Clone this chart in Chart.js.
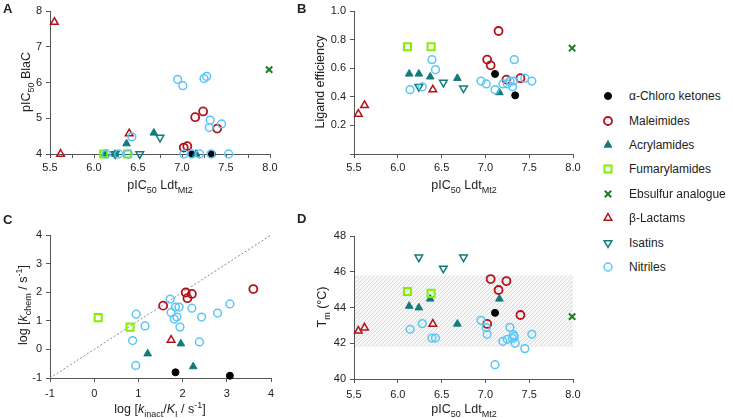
<!DOCTYPE html>
<html>
<head>
<meta charset="utf-8">
<script src="https://cdn.jsdelivr.net/npm/chart.js@4.4.1/dist/chart.umd.min.js"></script>
<style>
  body { margin: 0; background: #fff; font-family: 'Liberation Sans', Arial, sans-serif; color: #222; }
  #fig { position: relative; width: 732px; height: 418px; overflow: hidden; }
  canvas { position: absolute; }
  .lbl { position: absolute; font-weight: bold; font-size: 13px; }
  .t { position: absolute; font-size: 12.5px; white-space: nowrap; transform: translate(-50%, -50%); }
  .t.v { transform: translate(-50%, -50%) rotate(-90deg); }
  sub, sup { font-size: 72%; line-height: 0; }
  .leg { position: absolute; left: 600px; height: 16px; font-size: 12px; white-space: nowrap; }
  .leg svg { position: absolute; left: 0; top: 0; }
  .leg span { position: absolute; left: 29px; top: 0; line-height: 16px; }
</style>
</head>
<body>
<div id="fig">
  <canvas id="cA" width="290" height="200" style="left:0;top:0"></canvas>
  <canvas id="cB" width="290" height="200" style="left:300px;top:0"></canvas>
  <canvas id="cC" width="290" height="208" style="left:0;top:210px"></canvas>
  <canvas id="cD" width="290" height="208" style="left:300px;top:210px"></canvas>

  <div class="lbl" style="left:3px;top:1px">A</div>
  <div class="lbl" style="left:297px;top:1px">B</div>
  <div class="lbl" style="left:3px;top:212px">C</div>
  <div class="lbl" style="left:297px;top:211px">D</div>

  <div class="t v" style="left:26px;top:82px">pIC<sub>50</sub> BlaC</div>
  <div class="t" style="left:160px;top:185px">pIC<sub>50</sub> Ldt<sub>Mt2</sub></div>
  <div class="t v" style="left:320px;top:82px">Ligand efficiency</div>
  <div class="t" style="left:464px;top:185px">pIC<sub>50</sub> Ldt<sub>Mt2</sub></div>
  <div class="t v" style="left:23px;top:305px">log [<i>k</i><sub>chem</sub> / s<sup>-1</sup>]</div>
  <div class="t" style="left:160px;top:409px">log [<i>k</i><sub>inact</sub>/<i>K</i><sub>I</sub> / s<sup>-1</sup>]</div>
  <div class="t v" style="left:322px;top:307px">T<sub>m</sub> (°C)</div>
  <div class="t" style="left:464px;top:409px">pIC<sub>50</sub> Ldt<sub>Mt2</sub></div>

  <div id="legend"></div>
</div>

<script>
// compound classes (legend order)
const classes = ['α-Chloro ketones', 'Maleimides', 'Acrylamides', 'Fumarylamides',
  'Ebsulfur analogue', 'β-Lactams', 'Isatins', 'Nitriles'];

// pIC50 LdtMt2 per class (x of A, B, D)
const chloroX = [7.11, 7.34];
const maleimX = [7.02, 7.06, 7.15, 7.24, 7.40];
const acrylX = [6.13, 6.24, 6.37, 6.68, 7.16];
const fumarX = [6.11, 6.38];
const ebsulX = [7.99];
const lactamX = [5.55, 5.62, 6.40];
const isatinX = [6.24, 6.52, 6.75];
const nitrileX = [6.14, 6.28, 6.39, 6.43, 6.95, 7.01, 7.02, 7.11, 7.20, 7.25, 7.28, 7.31, 7.32, 7.33, 7.34, 7.45, 7.53];

// A: pIC50 BlaC
const chloroBlaC = [4.0, 4.0];
const maleimBlaC = [4.18, 4.22, 5.03, 5.19, 4.71];
const acrylBlaC = [4.0, 4.0, 4.29, 4.59, 4.0];
const fumarBlaC = [4.0, 4.0];
const ebsulBlaC = [6.36];
const lactamBlaC = [7.69, 4.0, 4.57];
const isatinBlaC = [4.0, 4.0, 4.46];
const nitrileBlaC = [4.0, 4.0, 4.0, 4.48, 6.09, 5.91, 4.0, 4.0, 4.0, 6.11, 6.17, 4.74, 4.95, 4.0, null, 4.84, 4.0];

// B: ligand efficiency
const chloroLE = [0.56, 0.41];
const maleimLE = [0.66, 0.62, 0.86, 0.52, 0.53];
const acrylLE = [0.56, 0.56, 0.54, 0.53, 0.43];
const fumarLE = [0.75, 0.75];
const ebsulLE = [0.74];
const lactamLE = [0.28, 0.34, 0.45];
const isatinLE = [0.47, 0.50, 0.46];
const nitrileLE = [0.45, 0.47, 0.66, 0.59, 0.51, 0.49, null, 0.45, 0.49, 0.49, 0.51, 0.47, 0.51, 0.66, null, 0.53, 0.51];

// D: Tm (°C)
const chloroTm = [43.7, null];
const maleimTm = [43.08, 45.59, 44.98, 45.48, 43.58];
const acrylTm = [44.08, 43.99, 44.48, 43.08, 44.48];
const fumarTm = [44.9, 44.79];
const ebsulTm = [43.49];
const lactamTm = [42.69, 42.87, 43.08];
const isatinTm = [46.81, 46.19, 46.81];
const nitrileTm = [42.78, 43.10, 42.29, 42.29, 43.28, 42.87, 42.50, 40.80, 42.11, 42.22, 42.89, 42.27, 42.48, 42.38, 42.00, 41.70, 42.50];
const tmBand = [41.8, 45.8];

// C: log kinact/KI (x) and log kchem (y)
const chloroKi = [1.84, 3.07];
const chloroKc = [-0.80, -0.92];
const maleimKi = [1.56, 2.07, 2.21, 2.11, 3.60];
const maleimKc = [1.53, 1.99, 1.94, 1.79, 2.11];
const acrylKi = [1.21, 1.96, 2.24];
const acrylKc = [-0.15, 0.20, -0.60];
const fumarKi = [0.09, 0.81];
const fumarKc = [1.11, 0.78];
const lactamKi = [1.74];
const lactamKc = [0.33];
const nitrileKi = [0.95, 1.15, 0.87, 0.94, 1.72, 1.74, 1.84, 1.92, 1.87, 1.81, 1.94, 2.21, 2.43, 2.38, 2.79, 3.07];
const nitrileKc = [1.23, 0.82, 0.31, -0.56, 1.76, 1.29, 1.48, 1.48, 1.13, 1.06, 0.78, 1.44, 1.13, 0.26, 1.27, 1.59];
const identityLine = [-1, 4];

const FONT = "'Liberation Sans', Arial, sans-serif";
const RED = '#b3121a', TEAL = '#127b7b', LIME = '#80f000', GREEN = '#1d7f22', BLUE = '#5bc6f5';

// marker style per class
const styles = [
  { pointStyle: 'circle', radius: 3.5, backgroundColor: '#000', borderColor: '#000', borderWidth: 1 },
  { pointStyle: 'circle', radius: 4, backgroundColor: 'rgba(0,0,0,0)', borderColor: RED, borderWidth: 1.8 },
  { pointStyle: 'triangle', radius: 4.4, backgroundColor: TEAL, borderColor: TEAL, borderWidth: 1 },
  { pointStyle: 'rect', radius: 5, backgroundColor: 'rgba(0,0,0,0)', borderColor: LIME, borderWidth: 2 },
  { pointStyle: 'crossRot', radius: 4.5, backgroundColor: GREEN, borderColor: GREEN, borderWidth: 2 },
  { pointStyle: 'triangle', radius: 4.4, backgroundColor: 'rgba(0,0,0,0)', borderColor: RED, borderWidth: 1.5 },
  { pointStyle: 'triangle', radius: 4.4, rotation: 180, backgroundColor: 'rgba(0,0,0,0)', borderColor: TEAL, borderWidth: 1.5 },
  { pointStyle: 'circle', radius: 3.9, backgroundColor: 'rgba(0,0,0,0)', borderColor: BLUE, borderWidth: 1.5 }
];

function pts(xs, ys) {
  return xs.map((x, i) => ({ x: x, y: ys[i] })).filter(p => p.y != null);
}

function series(list) {
  // list: array of [classIndex, xs, ys]
  return list.map(([ci, xs, ys]) => {
    const s = styles[ci];
    return {
      label: classes[ci],
      data: pts(xs, ys),
      pointStyle: s.pointStyle,
      pointRadius: s.radius,
      pointRotation: s.rotation || 0,
      pointBackgroundColor: s.backgroundColor,
      pointBorderColor: s.borderColor,
      pointBorderWidth: s.borderWidth,
      showLine: false,
      clip: false
    };
  });
}

function axis(min, max, step, fmt, size, bottomPad) {
  return {
    type: 'linear',
    min: min,
    max: max,
    ticks: {
      stepSize: step,
      autoSkip: false,
      maxRotation: 0,
      padding: bottomPad,
      color: '#222',
      font: { family: FONT, size: 11 },
      callback: fmt
    },
    grid: { drawOnChartArea: false, drawTicks: true, tickLength: 4, color: '#555' },
    border: { display: true, color: '#555', width: 1 },
    afterFit: (s) => {
      if (s.isHorizontal()) { s.height = size; s.paddingLeft = 0; s.paddingRight = 0; }
      else { s.width = size; s.paddingTop = 0; s.paddingBottom = 0; }
    }
  };
}

const half = (v) => Math.abs(v * 2 - Math.round(v * 2)) < 1e-6 ? v.toFixed(1) : '';
const oneDec = (v) => v < 0.01 ? '' : v.toFixed(1);
const intg = (v) => String(Math.round(v));

// hatched band for panel D
const bandPlugin = {
  id: 'band',
  beforeDatasetsDraw(chart) {
    const { ctx, scales: { x, y } } = chart;
    const pc = document.createElement('canvas');
    pc.width = 4; pc.height = 4;
    const p = pc.getContext('2d');
    p.fillStyle = '#f7f7f7';
    p.fillRect(0, 0, 4, 4);
    p.strokeStyle = '#d2d2d2';
    p.lineWidth = 0.8;
    p.beginPath();
    p.moveTo(0, 4); p.lineTo(4, 0);
    p.moveTo(-1, 1); p.lineTo(1, -1);
    p.moveTo(3, 5); p.lineTo(5, 3);
    p.stroke();
    const top = y.getPixelForValue(tmBand[1]);
    const bot = y.getPixelForValue(tmBand[0]);
    ctx.save();
    ctx.fillStyle = ctx.createPattern(pc, 'repeat');
    ctx.fillRect(x.left + 1, top, x.right - x.left - 1, bot - top);
    ctx.restore();
  }
};

function make(id, datasets, xAxis, yAxis, padding, plugins) {
  return new Chart(document.getElementById(id), {
    type: 'scatter',
    data: { datasets: datasets },
    options: {
      responsive: false,
      animation: false,
      devicePixelRatio: 1,
      events: [],
      layout: { padding: padding },
      plugins: { legend: { display: false }, tooltip: { enabled: false } },
      scales: { x: xAxis, y: yAxis }
    },
    plugins: plugins || []
  });
}

// A
make('cA', series([
  [7, nitrileX, nitrileBlaC], [6, isatinX, isatinBlaC], [5, lactamX, lactamBlaC], [4, ebsulX, ebsulBlaC],
  [3, fumarX, fumarBlaC], [2, acrylX, acrylBlaC], [1, maleimX, maleimBlaC], [0, chloroX, chloroBlaC]
]), axis(5.5, 8.0, 0.25, half, 46, 3), axis(4, 8, 1, intg, 50, 4),
  { left: 0, top: 11, right: 20, bottom: 0 });

// B
make('cB', series([
  [7, nitrileX, nitrileLE], [6, isatinX, isatinLE], [5, lactamX, lactamLE], [4, ebsulX, ebsulLE],
  [3, fumarX, fumarLE], [2, acrylX, acrylLE], [1, maleimX, maleimLE], [0, chloroX, chloroLE]
]), axis(5.5, 8.0, 0.5, half, 46, 3), axis(0, 1.0, 0.2, oneDec, 54, 4),
  { left: 0, top: 11, right: 17, bottom: 0 });

// C
const cSets = series([
  [7, nitrileKi, nitrileKc], [5, lactamKi, lactamKc], [3, fumarKi, fumarKc],
  [2, acrylKi, acrylKc], [1, maleimKi, maleimKc], [0, chloroKi, chloroKc]
]);
cSets.push({
  type: 'line',
  data: identityLine.map(v => ({ x: v, y: v })),
  borderColor: '#8a8a8a',
  borderWidth: 1,
  borderDash: [2, 2],
  pointRadius: 0,
  clip: false
});
make('cC', cSets, axis(-1, 4, 1, intg, 40, 5), axis(-1, 4, 1, intg, 50, 4),
  { left: 0, top: 25, right: 19, bottom: 0 });

// D
make('cD', series([
  [7, nitrileX, nitrileTm], [6, isatinX, isatinTm], [5, lactamX, lactamTm], [4, ebsulX, ebsulTm],
  [3, fumarX, fumarTm], [2, acrylX, acrylTm], [1, maleimX, maleimTm], [0, chloroX, chloroTm]
]), axis(5.5, 8.0, 0.5, half, 39, 5), axis(40, 48, 2, intg, 54, 4),
  { left: 0, top: 26, right: 17, bottom: 0 }, [bandPlugin]);

// legend (HTML + SVG markers)
function markerSvg(s) {
  const c = 8, r = s.radius;
  const fill = s.backgroundColor, st = s.borderColor, w = s.borderWidth;
  let body = '';
  if (s.pointStyle === 'circle') {
    body = `<circle cx="${c}" cy="${c}" r="${r}" fill="${fill}" stroke="${st}" stroke-width="${w}"/>`;
  } else if (s.pointStyle === 'rect') {
    const h = r * Math.SQRT1_2;
    body = `<rect x="${c - h}" y="${c - h}" width="${2 * h}" height="${2 * h}" fill="${fill}" stroke="${st}" stroke-width="${w}"/>`;
  } else if (s.pointStyle === 'crossRot') {
    const h = r * Math.SQRT1_2;
    body = `<path d="M${c - h} ${c - h}L${c + h} ${c + h}M${c - h} ${c + h}L${c + h} ${c - h}" stroke="${st}" stroke-width="${w}"/>`;
  } else {
    const a = (s.rotation || 0) * Math.PI / 180;
    const v = [0, 120, 240].map(d => {
      const t = a + d * Math.PI / 180;
      return `${c + r * Math.sin(t)},${c - r * Math.cos(t)}`;
    }).join(' ');
    body = `<polygon points="${v}" fill="${fill}" stroke="${st}" stroke-width="${w}" stroke-linejoin="miter"/>`;
  }
  return `<svg width="16" height="16">${body}</svg>`;
}

const legendTop = 96.2, legendStep = 24.4;
document.getElementById('legend').innerHTML = classes.map((name, i) =>
  `<div class="leg" style="top:${legendTop + i * legendStep - 8}px">${markerSvg(styles[i])}<span>${name}</span></div>`
).join('');
</script>
</body>
</html>
